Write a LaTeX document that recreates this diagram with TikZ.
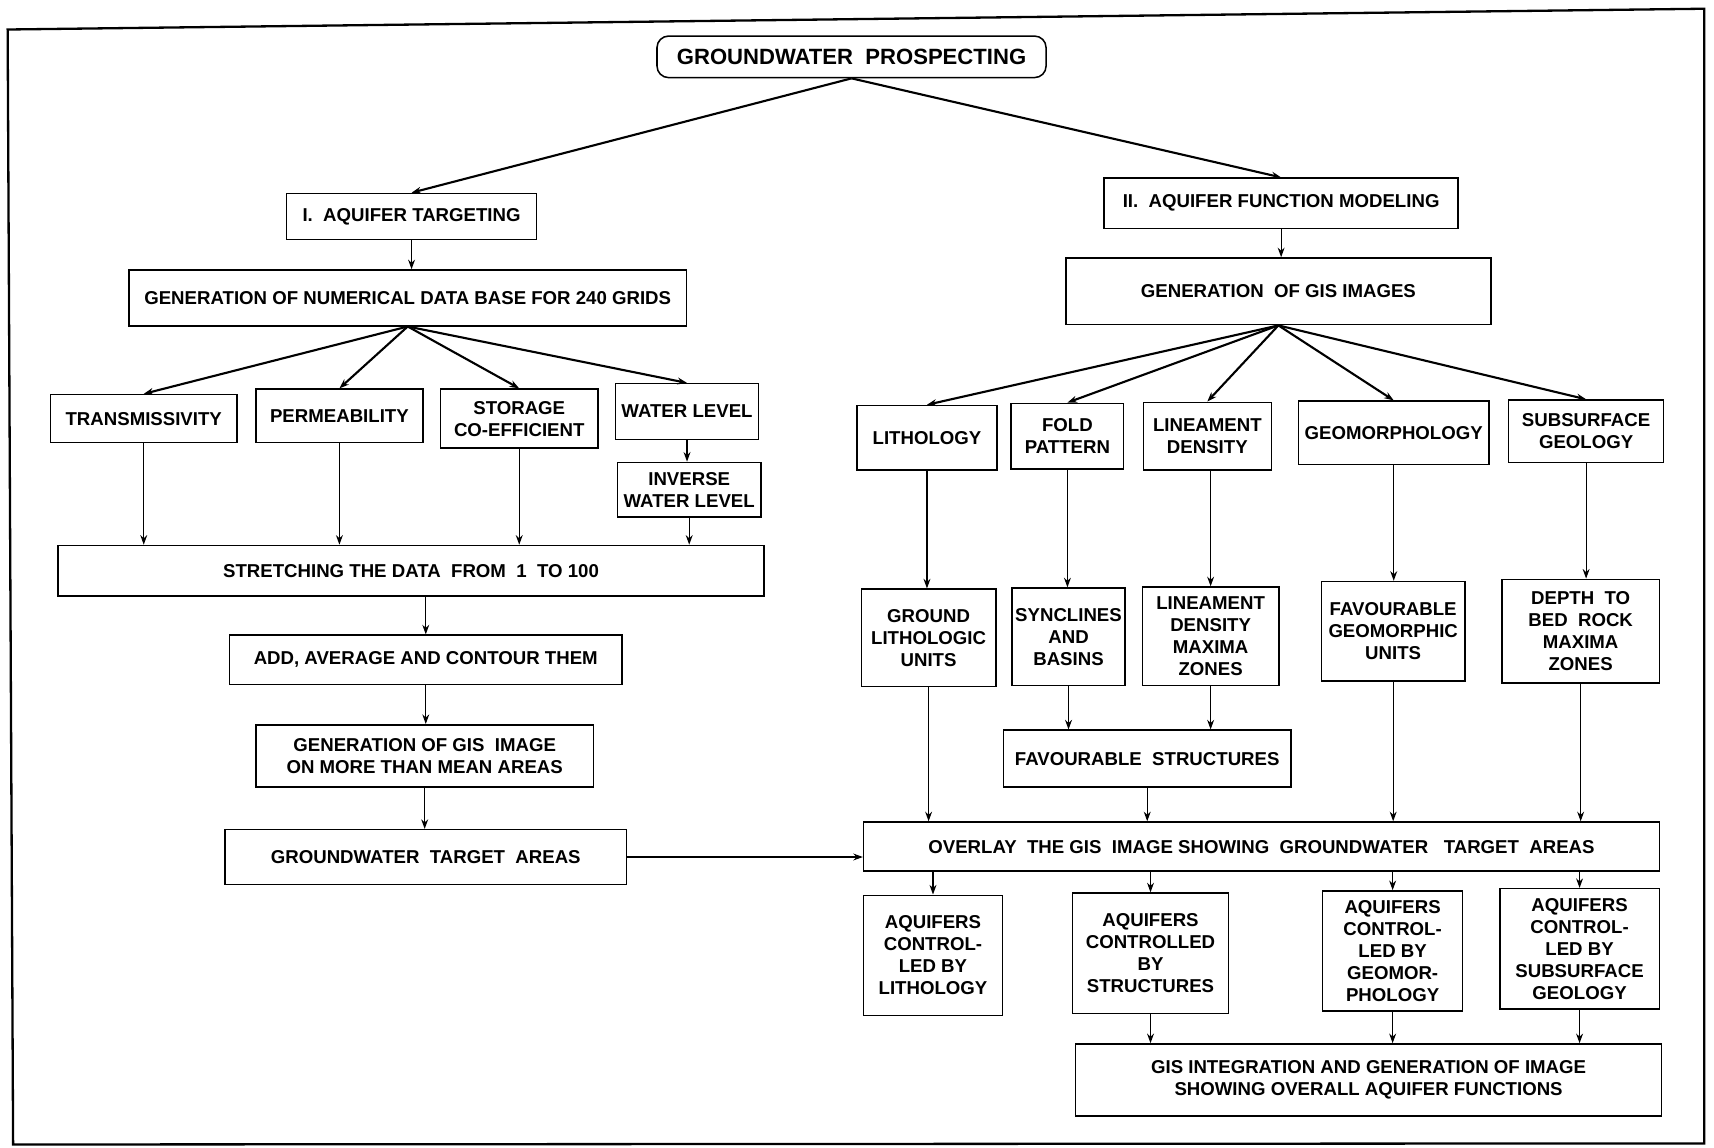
\documentclass[tikz,border=0pt]{standalone}
\usepackage{fontspec}
\setmainfont{Liberation Sans}
\usetikzlibrary{arrows.meta}

\begin{document}
\begin{tikzpicture}[
    x=0.02cm, y=-0.02cm,
    box/.style={rectangle, draw, line width=0.8pt, inner sep=1pt, align=center, font=\bfseries\fontsize{9.7}{11.5}\selectfont},
    titlebox/.style={box, rounded corners=6pt, font=\bfseries\fontsize{11.5}{13}\selectfont},
    arrow/.style={-{Stealth[length=5pt,width=3.6pt]}, line width=0.6pt},
    fan/.style={arrow, line width=1.1pt}
]
    \useasboundingbox (0,0) rectangle (1568,1050);
    \draw[line width=1.2pt] (7,27) -- (1559,8) -- (1559,1046) -- (12,1047) -- cycle;

    \node[titlebox, minimum width=7.12cm, minimum height=0.76cm] (gwp) at (779,52) {GROUNDWATER~ PROSPECTING};

    % I. aquifer targeting
    \node[box, minimum width=4.58cm, minimum height=0.84cm] (at) at (376.5,198) {I.~ AQUIFER TARGETING};
    \node[box, minimum width=10.2cm, minimum height=1.02cm] (gndb) at (373,272.5) {GENERATION OF NUMERICAL DATA BASE FOR 240 GRIDS};
    \node[box, minimum width=3.42cm, minimum height=0.88cm] (trans) at (131.5,383) {TRANSMISSIVITY};
    \node[box, minimum width=3.06cm, minimum height=0.98cm] (perm) at (310.5,380.5) {PERMEABILITY};
    \node[box, minimum width=2.88cm, minimum height=1.08cm] (stor) at (475,383) {STORAGE\\CO-EFFICIENT};
    \node[box, minimum width=2.62cm, minimum height=1.02cm] (wl) at (628.5,376.5) {WATER LEVEL};
    \node[box, minimum width=2.62cm, minimum height=1.0cm] (iwl) at (630.5,448) {INVERSE\\WATER LEVEL};
    \node[box, minimum width=12.92cm, minimum height=0.92cm] (stretch) at (376,522) {STRETCHING THE DATA~ FROM~ 1~ TO 100};
    \node[box, minimum width=7.18cm, minimum height=0.9cm] (add) at (389.5,603.5) {ADD, AVERAGE AND CONTOUR THEM};
    \node[box, minimum width=6.18cm, minimum height=1.14cm] (gmean) at (388.5,691.5) {GENERATION OF GIS~ IMAGE\\ON MORE THAN MEAN AREAS};
    \node[box, minimum width=7.34cm, minimum height=1.0cm] (gta) at (389.5,784) {GROUNDWATER~ TARGET~ AREAS};

    % II. aquifer function modeling
    \node[box, minimum width=6.48cm, minimum height=0.92cm] (afm) at (1172,186) {II.~ AQUIFER FUNCTION MODELING};
    \node[box, minimum width=7.78cm, minimum height=1.22cm] (ggis) at (1169.5,266.5) {GENERATION~ OF GIS IMAGES};
    \node[box, minimum width=2.56cm, minimum height=1.18cm] (lith) at (848,400.5) {LITHOLOGY};
    \node[box, minimum width=2.06cm, minimum height=1.2cm] (fold) at (976.5,399) {FOLD\\PATTERN};
    \node[box, minimum width=2.34cm, minimum height=1.24cm] (lind) at (1104.5,399) {LINEAMENT\\DENSITY};
    \node[box, minimum width=3.48cm, minimum height=1.16cm] (geom) at (1275,396) {GEOMORPHOLOGY};
    \node[box, minimum width=2.84cm, minimum height=1.14cm] (subs) at (1451,394.5) {SUBSURFACE\\GEOLOGY};
    \node[box, minimum width=2.46cm, minimum height=1.78cm] (glu) at (849.5,583.5) {GROUND\\LITHOLOGIC\\UNITS};
    \node[box, minimum width=2.06cm, minimum height=1.78cm] (syn) at (977.5,582.5) {SYNCLINES\\AND\\BASINS};
    \node[box, minimum width=2.5cm, minimum height=1.8cm] (lmz) at (1107.5,582) {LINEAMENT\\DENSITY\\MAXIMA\\ZONES};
    \node[box, minimum width=2.62cm, minimum height=1.82cm] (fgu) at (1274.5,577.5) {FAVOURABLE\\GEOMORPHIC\\UNITS};
    \node[box, minimum width=2.88cm, minimum height=1.9cm] (dbr) at (1446,577.5) {DEPTH~ TO\\BED~ ROCK\\MAXIMA\\ZONES};
    \node[box, minimum width=5.26cm, minimum height=1.04cm] (fs) at (1049.5,694) {FAVOURABLE~ STRUCTURES};
    \node[box, minimum width=14.56cm, minimum height=0.9cm] (ovl) at (1154,774.5) {OVERLAY~ THE GIS~ IMAGE SHOWING~ GROUNDWATER~~ TARGET~ AREAS};
    \node[box, minimum width=2.54cm, minimum height=2.2cm] (alith) at (853.5,874) {AQUIFERS\\CONTROL-\\LED BY\\LITHOLOGY};
    \node[box, minimum width=2.86cm, minimum height=2.2cm] (astr) at (1052.5,872) {AQUIFERS\\CONTROLLED\\BY\\STRUCTURES};
    \node[box, minimum width=2.56cm, minimum height=2.2cm] (ageo) at (1274,870) {AQUIFERS\\CONTROL-\\LED BY\\GEOMOR-\\PHOLOGY};
    \node[box, minimum width=2.92cm, minimum height=2.2cm] (asub) at (1445,868) {AQUIFERS\\CONTROL-\\LED BY\\SUBSURFACE\\GEOLOGY};
    \node[box, minimum width=10.72cm, minimum height=1.32cm] (gisint) at (1252,988) {GIS INTEGRATION AND GENERATION OF IMAGE\\SHOWING OVERALL AQUIFER FUNCTIONS};

    % fans
    \draw[fan] (gwp.south) -- (at.north);
    \draw[fan] (gwp.south) -- (afm.north);
    \foreach \n in {trans,perm,stor,wl}
        \draw[fan] (gndb.south) -- (\n.north);
    \foreach \n in {lith,fold,lind,geom,subs}
        \draw[fan] (ggis.south) -- (\n.north);

    % left column
    \draw[arrow] (at) -- (at |- gndb.north);
    \foreach \n in {trans,perm,stor,iwl}
        \draw[arrow] (\n) -- (\n |- stretch.north);
    \draw[arrow] (wl) -- (wl |- iwl.north);
    \draw[arrow] (add.north |- stretch.south) -- (add.north);
    \draw[arrow] (add.south) -- (add.south |- gmean.north);
    \draw[arrow] (gmean.south) -- (gmean.south |- gta.north);
    \draw[arrow] (gta.east) -- (gta.east -| ovl.west);

    % right column
    \draw[arrow] (afm) -- (afm |- ggis.north);
    \draw[arrow] (lith) -- (lith |- glu.north);
    \draw[arrow] (fold) -- (fold |- syn.north);
    \draw[arrow] (lmz.north |- lind.south) -- (lmz.north);
    \draw[arrow] (geom) -- (geom |- fgu.north);
    \draw[arrow] (subs) -- (subs |- dbr.north);
    \foreach \n in {syn,lmz}
        \draw[arrow] (\n) -- (\n |- fs.north);
    \foreach \n in {glu,fs,fgu,dbr}
        \draw[arrow] (\n) -- (\n |- ovl.north);
    \foreach \n in {alith,astr,ageo,asub}
        \draw[arrow] (\n.north |- ovl.south) -- (\n.north);
    \foreach \n in {astr,ageo,asub}
        \draw[arrow] (\n) -- (\n |- gisint.north);
\end{tikzpicture}
\end{document}
